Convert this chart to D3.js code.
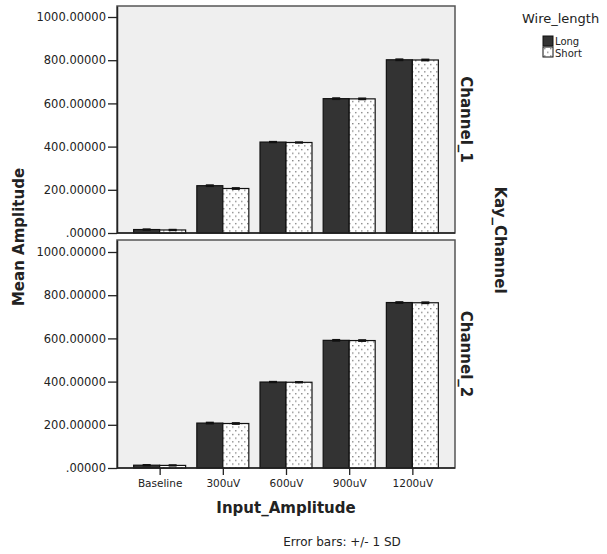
<!DOCTYPE html>
<html>
<head>
<meta charset="utf-8">
<script src="https://cdn.jsdelivr.net/npm/d3@7"></script>
<style>
  body { margin: 0; background: #fff; }
  text { font-family: "DejaVu Sans", Verdana, sans-serif; fill: #222; }
</style>
</head>
<body>
<div id="chart"></div>
<script>
//* data
var categories = ["Baseline", "300uV", "600uV", "900uV", "1200uV"]
var groups = ["Long", "Short"]
var panels = ["Channel_1", "Channel_2"]
var ch1Long = [16, 219, 421, 622, 802]
var ch1Short = [14, 206, 419, 621, 801]
var ch2Long = [13, 208, 398, 591, 766]
var ch2Short = [12, 206, 397, 590, 765]
var sdLong = [2, 3, 2, 3, 3]
var sdShort = [2, 3, 2, 3, 3]
var yTicks = [0, 200, 400, 600, 800, 1000]

var width = 607, height = 554
var left = 117, right = 455
var panelBox = [{top: 6, bottom: 233}, {top: 240, bottom: 468}]

var svg = d3.select("#chart").append("svg")
    .attr("width", width)
    .attr("height", height)

// dotted fill for the Short bars
var defs = svg.append("defs")
var pat = defs.append("pattern")
    .attr("id", "dots")
    .attr("patternUnits", "userSpaceOnUse")
    .attr("width", 6).attr("height", 7.4)
pat.append("rect").attr("width", 6).attr("height", 7.4).attr("fill", "#fff")
pat.append("rect").attr("x", 1).attr("y", 1).attr("width", 1.5).attr("height", 1.2).attr("fill", "#808080")
pat.append("rect").attr("x", 4).attr("y", 4.7).attr("width", 1.5).attr("height", 1.2).attr("fill", "#808080")

var x = d3.scalePoint()
    .domain(categories)
    .range([left, right])
    .padding(0.675)
var xg = d3.scaleBand()
    .domain(groups)
    .range([-26, 26])

var color = d3.scaleOrdinal().domain(groups).range(["#333333", "url(#dots)"])

var fmt = function(v){ return v == 0 ? ".00000" : d3.format(".5f")(v) }

var dataByPanel = [
    {Long: ch1Long, Short: ch1Short},
    {Long: ch2Long, Short: ch2Short}
]
var sds = {Long: sdLong, Short: sdShort}

panels.forEach(function(name, p){
    var box = panelBox[p]
    var y = d3.scaleLinear()
        .domain([0, (box.bottom - box.top) / 0.216])
        .range([box.bottom, box.top])

    var g = svg.append("g")

    g.append("rect")
        .attr("x", left).attr("y", box.top)
        .attr("width", right - left).attr("height", box.bottom - box.top)
        .attr("fill", "#efefef")
        .attr("stroke", "#555").attr("stroke-width", 1.5)

    // bars
    var rows = []
    categories.forEach(function(c, i){
        groups.forEach(function(k){
            rows.push({cat: c, grp: k, v: dataByPanel[p][k][i], sd: sds[k][i]})
        })
    })

    g.selectAll(".bar")
        .data(rows)
        .enter()
        .append("rect")
        .attr("x", function(d){ return x(d.cat) + xg(d.grp) })
        .attr("y", function(d){ return y(d.v) })
        .attr("width", xg.bandwidth())
        .attr("height", function(d){ return y(0) - y(d.v) })
        .attr("fill", function(d){ return color(d.grp) })
        .attr("stroke", "#111").attr("stroke-width", 1.2)

    // error bars
    var eb = g.selectAll(".err")
        .data(rows)
        .enter()
        .append("g")
    eb.append("line")
        .attr("x1", function(d){ return x(d.cat) + xg(d.grp) + xg.bandwidth() / 2 })
        .attr("x2", function(d){ return x(d.cat) + xg(d.grp) + xg.bandwidth() / 2 })
        .attr("y1", function(d){ return y(d.v - d.sd) })
        .attr("y2", function(d){ return y(d.v + d.sd) })
        .attr("stroke", "#111").attr("stroke-width", 1.5)
    eb.selectAll("cap")
        .data(function(d){ return [d.v - d.sd, d.v + d.sd].map(function(v){ return {d: d, v: v} }) })
        .enter()
        .append("line")
        .attr("x1", function(e){ return x(e.d.cat) + xg(e.d.grp) + xg.bandwidth() / 2 - 4 })
        .attr("x2", function(e){ return x(e.d.cat) + xg(e.d.grp) + xg.bandwidth() / 2 + 4 })
        .attr("y1", function(e){ return y(e.v) })
        .attr("y2", function(e){ return y(e.v) })
        .attr("stroke", "#111").attr("stroke-width", 1.5)

    // y axis
    var ya = g.append("g")
        .attr("transform", "translate(" + left + ",0)")
        .call(d3.axisLeft(y).tickValues(yTicks).tickFormat(fmt).tickSize(9).tickPadding(2).tickSizeOuter(0))
    ya.select(".domain").attr("stroke", "#222").attr("stroke-width", 1.5)
    ya.selectAll(".tick line").attr("stroke", "#222").attr("stroke-width", 1.3)
    ya.selectAll(".tick text").attr("font-size", "11.5px").attr("fill", "#222")
        .style("font-family", "DejaVu Sans, sans-serif")

    // bottom axis line
    g.append("line")
        .attr("x1", left).attr("x2", right)
        .attr("y1", box.bottom).attr("y2", box.bottom)
        .attr("stroke", "#222").attr("stroke-width", 1.5)

    if (p == panels.length - 1) {
        var xa = g.append("g")
            .attr("transform", "translate(0," + box.bottom + ")")
            .call(d3.axisBottom(x).tickSize(7).tickPadding(5).tickSizeOuter(0))
        xa.select(".domain").remove()
        xa.selectAll(".tick line").attr("stroke", "#222").attr("stroke-width", 1.3)
        xa.selectAll(".tick text").attr("font-size", "10.5px").attr("fill", "#222")
            .style("font-family", "DejaVu Sans, sans-serif")
    }

    // panel label on the right
    g.append("text")
        .attr("transform", "translate(461," + ((box.top + box.bottom) / 2) + ") rotate(90)")
        .attr("text-anchor", "middle")
        .attr("font-size", "15px")
        .attr("font-weight", "bold")
        .text(name)
})

// titles
svg.append("text")
    .attr("transform", "translate(24,237) rotate(-90)")
    .attr("text-anchor", "middle")
    .attr("font-size", "15px")
    .attr("font-weight", "bold")
    .text("Mean Amplitude")

svg.append("text")
    .attr("x", 286).attr("y", 513)
    .attr("text-anchor", "middle")
    .attr("font-size", "15px")
    .attr("font-weight", "bold")
    .text("Input_Amplitude")

svg.append("text")
    .attr("transform", "translate(495,240) rotate(90)")
    .attr("text-anchor", "middle")
    .attr("font-size", "15px")
    .attr("font-weight", "bold")
    .text("Kay_Channel")

svg.append("text")
    .attr("x", 342).attr("y", 546)
    .attr("text-anchor", "middle")
    .attr("font-size", "12px")
    .text("Error bars: +/- 1 SD")

// legend
svg.append("text")
    .attr("x", 522).attr("y", 23)
    .attr("font-size", "13px")
    .text("Wire_length")

var leg = svg.selectAll(".leg")
    .data(groups)
    .enter()
    .append("g")
    .attr("transform", function(d, i){ return "translate(543," + (36 + i * 11) + ")" })
leg.append("rect")
    .attr("width", 10).attr("height", 10)
    .attr("fill", function(d){ return color(d) })
    .attr("stroke", "#111").attr("stroke-width", 1)
leg.append("text")
    .attr("x", 12).attr("y", function(d, i){ return 9 + i })
    .attr("font-size", "10px")
    .text(function(d){ return d })
</script>
</body>
</html>
